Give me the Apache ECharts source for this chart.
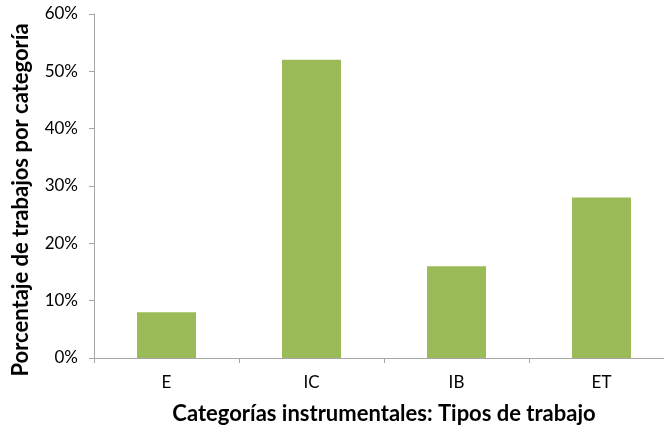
<!DOCTYPE html>
<html><head><meta charset="utf-8">
<script src="https://cdn.jsdelivr.net/npm/echarts@6/dist/echarts.min.js"></script>
<style>html,body{margin:0;padding:0;background:#fff;overflow:hidden;width:664px;height:430px}#c{width:690px;height:430px}</style>
</head><body><div id="c"></div>
<script>
const categories = ['E', 'IC', 'IB', 'ET'];
const values = [8, 52, 16, 28];
const yTicks = [0, 10, 20, 30, 40, 50, 60];
const xTitle = 'Categorías instrumentales: Tipos de trabajo';
const yTitle = 'Porcentaje de trabajos por categoría';

const font = 'Lato, "Open Sans", sans-serif';
const chart = echarts.init(document.getElementById('c'), null, {renderer: 'canvas'});
chart.setOption({
  animation: false,
  grid: {left: 94, top: 14, width: 580, bottom: 72, containLabel: false},
  xAxis: {
    type: 'category', data: categories, boundaryGap: true,
    name: xTitle, nameLocation: 'middle', nameGap: 45,
    nameTextStyle: {fontFamily: font, fontWeight: 'bold', fontSize: 22, color: '#000'},
    axisLine: {lineStyle: {color: '#a6a6a6', width: 1}},
    axisTick: {show: true, length: 5, lineStyle: {color: '#a6a6a6'}},
    axisLabel: {fontFamily: font, fontSize: 17, color: '#000', margin: 16}
  },
  yAxis: {
    type: 'value', min: yTicks[0], max: yTicks[yTicks.length - 1], interval: 10,
    name: yTitle, nameLocation: 'middle', nameGap: 62, nameRotate: 90,
    nameTextStyle: {fontFamily: font, fontWeight: 'bold', fontSize: 22, color: '#000', padding: [0, 28, 0, 0]},
    axisLine: {show: true, lineStyle: {color: '#a6a6a6', width: 1}},
    axisTick: {show: true, length: 5, lineStyle: {color: '#a6a6a6'}},
    splitLine: {show: false},
    axisLabel: {fontFamily: font, fontSize: 17, color: '#000', margin: 16, formatter: v => v + '%'}
  },
  series: [{
    type: 'bar', data: values, barWidth: 59,
    itemStyle: {color: '#9bbb59'}
  }]
});
</script></body></html>
